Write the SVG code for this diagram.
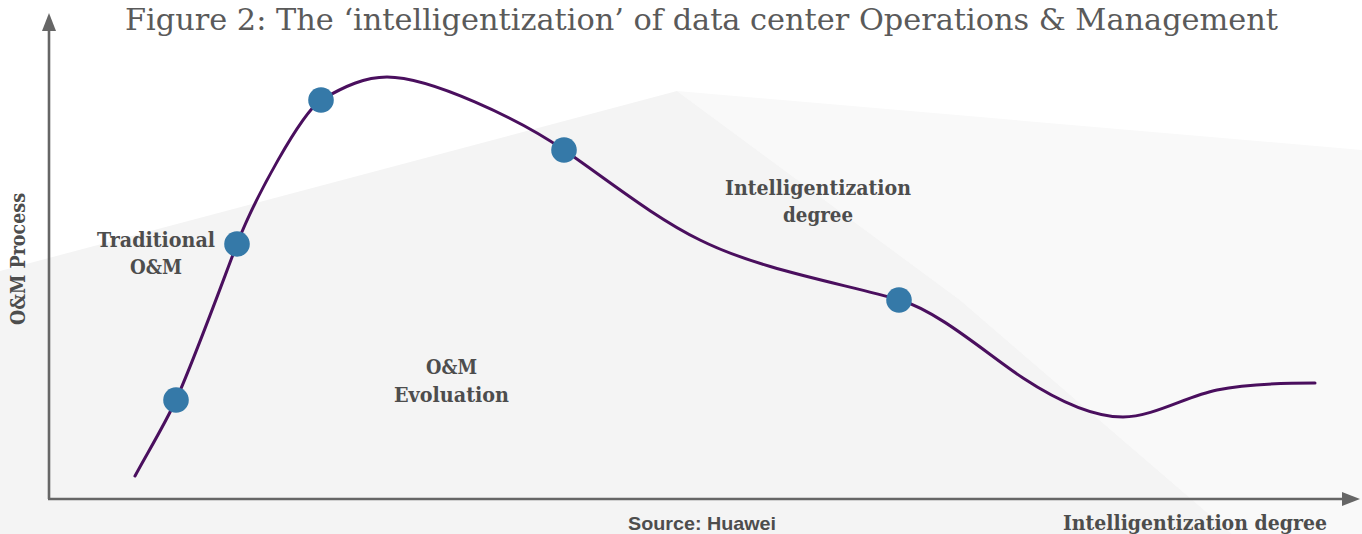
<svg xmlns="http://www.w3.org/2000/svg" width="1362" height="534" viewBox="0 0 1362 534">
  <style>
    .title { font-family: "DejaVu Serif", "Liberation Serif", serif; font-size: 29px; fill: #5a5a5a; }
    .lbl { font-family: "DejaVu Serif", "Liberation Serif", serif; font-size: 20px; font-weight: bold; fill: #4d4d4d; }
    .vlbl { font-family: "DejaVu Serif", "Liberation Serif", serif; font-size: 21px; font-weight: bold; fill: #4d4d4d; }
    .src { font-family: "Liberation Sans", Arial, sans-serif; font-size: 19px; font-weight: bold; fill: #4d4d4d; }
    .axis { stroke: #666666; stroke-width: 2.6; fill: none; }
    .head { fill: #666666; }
    .curve { stroke: #4a0f5e; stroke-width: 3; fill: none; stroke-linecap: round; }
    .dot { fill: #3579a8; }
  </style>
  <rect width="1362" height="534" fill="#ffffff"/>
  <g id="background">
    <polygon points="677,91 1362,150 1362,534 1232,534 960,300" fill="#f9f9f9"/>
    <polygon points="0,271 677,91 960,300 1232,534 0,534" fill="#f4f4f4"/>
  </g>
  <text class="title" x="125" y="30" textLength="1153" lengthAdjust="spacingAndGlyphs">Figure 2: The ‘intelligentization’ of data center Operations &amp; Management</text>
  <g id="axes">
    <line class="axis" x1="49" y1="499" x2="49" y2="28"/>
    <polygon class="head" points="49,13 42,31 56,31"/>
    <line class="axis" x1="48" y1="499" x2="1345" y2="499"/>
    <polygon class="head" points="1360,499 1342,492 1342,506"/>
  </g>
  <g id="connectors">
    <path class="curve" d="M135,476 C145,457 164,426 176,400 C194,360 221,286 237,244 C255,198 300,115 321,100 C345,86 365,77 387,77 C430,77 519,119 564,150 C609,181 655,218 700,240 C760,270 845,284 900,300 C940,312 988,355 1023,378 C1058,401 1093,417 1123,417 C1153,417 1187,396 1217,390 C1247,384 1285,383 1315,383"/>
  </g>
  <g id="node-1"><circle class="dot" cx="176" cy="400" r="12.8"/></g>
  <g id="node-2"><circle class="dot" cx="237" cy="244" r="12.8"/></g>
  <g id="node-3"><circle class="dot" cx="321" cy="100" r="12.8"/></g>
  <g id="node-4"><circle class="dot" cx="564" cy="150" r="12.8"/></g>
  <g id="node-5"><circle class="dot" cx="899" cy="300" r="12.8"/></g>
  <g id="label-traditional">
    <text class="lbl" x="97" y="247" textLength="118" lengthAdjust="spacingAndGlyphs">Traditional</text>
    <text class="lbl" x="130" y="274" textLength="52" lengthAdjust="spacingAndGlyphs">O&amp;M</text>
  </g>
  <g id="label-evolution">
    <text class="lbl" x="426" y="374" textLength="51" lengthAdjust="spacingAndGlyphs">O&amp;M</text>
    <text class="lbl" x="394" y="402" textLength="115" lengthAdjust="spacingAndGlyphs">Evoluation</text>
  </g>
  <g id="label-intelligentization">
    <text class="lbl" x="725" y="195" textLength="186" lengthAdjust="spacingAndGlyphs">Intelligentization</text>
    <text class="lbl" x="783" y="222" textLength="70" lengthAdjust="spacingAndGlyphs">degree</text>
  </g>
  <g id="axis-labels">
    <text class="vlbl" transform="translate(25,325) rotate(-90)" x="0" y="0" textLength="132" lengthAdjust="spacingAndGlyphs">O&amp;M Process</text>
    <text class="lbl" x="1063" y="530" textLength="264" lengthAdjust="spacingAndGlyphs">Intelligentization degree</text>
    <text class="src" x="628" y="530" textLength="148" lengthAdjust="spacingAndGlyphs">Source: Huawei</text>
  </g>
</svg>
